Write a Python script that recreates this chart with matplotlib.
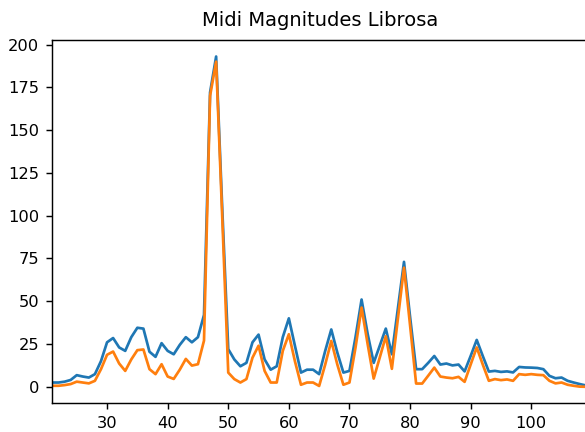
import numpy as np
import matplotlib
matplotlib.use('Agg')
import matplotlib.pyplot as plt

# midi note numbers (piano range)
midi = np.arange(21, 110)

# magnitudes, one row per 10 notes (21-30, 31-40, ...)
mag_a = [2.5, 2.5, 3, 4, 6.8, 6, 5.4, 7.4, 15, 26,
         28.5, 23, 21, 29, 34.5, 34, 20.5, 17.5, 25.5, 21,
         19, 24.5, 29, 26, 29, 42, 172, 193, 105, 22,
         16, 12, 14, 26, 30.5, 16, 10, 12, 29, 40,
         24, 8.3, 10, 10, 7.4, 21, 33.5, 20, 8.3, 9.3,
         29, 51, 31, 14, 24, 34, 19, 46, 73, 41,
         10.3, 10.3, 14, 18, 13, 13.6, 12.5, 13, 9, 18,
         27.4, 18, 8.9, 9.3, 8.7, 9, 8.4, 11.6, 11.3, 11.2,
         11, 10.3, 6.4, 5, 5.4, 3.5, 2.5, 1.6, 0.8]

mag_b = [0.6, 0.6, 1, 1.6, 3, 2.5, 2, 3.5, 10.3, 18.7,
         20.6, 13.6, 9.3, 16, 21.4, 21.8, 10.3, 7.4, 13.2, 6,
         4.6, 10, 16.3, 12.4, 13.2, 27, 170, 190, 100, 8.3,
         4.5, 2.5, 4.5, 17, 24, 9.3, 2.5, 2.5, 21, 30.7,
         15, 1.2, 2.5, 2.5, 0.5, 13, 26.8, 13, 1.2, 2.5,
         22.9, 46.3, 25, 4.8, 17.1, 29.5, 10.5, 40, 69.6, 36,
         1.9, 1.9, 6.5, 11.2, 6, 5.4, 5, 5.8, 2.9, 13,
         23, 13, 3.5, 4.5, 3.9, 4.3, 3.5, 7.4, 7, 7.4,
         7, 6.8, 3.5, 2, 2.5, 1.2, 0.6, 0.1, 0]

# notebook output looks rendered at ~130 dpi
dpi = 130
fig = plt.figure(figsize=(585 / dpi, 432 / dpi), dpi=dpi)
ax = fig.add_axes([0.0884, 0.0664, 0.9168, 0.8410])

ax.plot(midi, mag_a)
ax.plot(midi, mag_b)
ax.set_xlim(20.87, 109.37)
ax.tick_params(labelsize=9)
ax.set_title('Midi Magnitudes Librosa', fontsize=10.8, pad=7.5)

fig.savefig('out.png', dpi=dpi)
